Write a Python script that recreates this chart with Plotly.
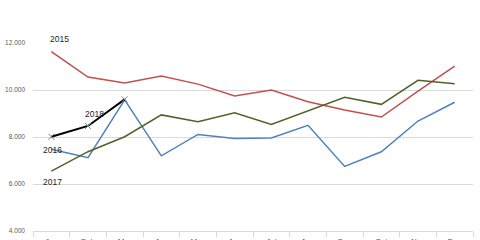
import plotly.graph_objects as go

months = ["Jan", "Feb", "Mar", "Apr", "May", "Jun", "Jul", "Aug", "Sep", "Oct", "Nov", "Dec"]
y2015 = [11630, 10550, 10300, 10600, 10250, 9750, 10000, 9500, 9150, 8850, 9950, 11020]
y2016 = [7480, 7120, 9580, 7200, 8110, 7940, 7960, 8500, 6750, 7370, 8680, 9480]
y2017 = [6550, 7375, 8010, 8940, 8650, 9030, 8530, 9100, 9690, 9390, 10410, 10270]
y2018 = [8010, 8470, 9600]
yticks = [4000, 6000, 8000, 10000, 12000]

fig = go.Figure()
fig.add_trace(go.Scatter(x=months, y=y2015, mode="lines", line=dict(color="#C0504D", width=1.5)))
fig.add_trace(go.Scatter(x=months, y=y2016, mode="lines", line=dict(color="#4F81BD", width=1.5)))
fig.add_trace(go.Scatter(x=months, y=y2017, mode="lines", line=dict(color="#4F6228", width=1.5)))
fig.add_trace(go.Scatter(x=months[:3], y=y2018, mode="lines+markers",
                         line=dict(color="#000000", width=2),
                         marker=dict(symbol="x-thin", size=6, color="#7f7f7f",
                                     line=dict(color="#7f7f7f", width=1))))

# (text, category, value, xshift, yshift)
labels = [("2015", "Jan", 12000, -3, 4), ("2018", "Feb", 9000, -5, 0),
          ("2016", "Jan", 7450, -10, 0), ("2017", "Jan", 6085, -10, 0)]
for txt, xx, yy, xs, ys in labels:
    fig.add_annotation(x=xx, y=yy, text=txt, showarrow=False, xanchor="left",
                       yanchor="middle", xshift=xs, yshift=ys,
                       font=dict(family="Liberation Sans, Arial", size=8.5, color="#262626"))

fig.update_layout(
    width=480, height=240,
    margin=dict(l=33, r=7, t=43, b=9),
    paper_bgcolor="white", plot_bgcolor="white",
    showlegend=False,
    separators=",.",
    font=dict(family="Liberation Sans, Arial", color="#595959"),
)
fig.update_xaxes(type="category", showgrid=False, showline=True, linecolor="#d9d9d9",
                 linewidth=1, ticks="outside", tickson="boundaries", ticklen=5,
                 tickcolor="#d9d9d9", tickfont=dict(size=8, color="#595959"),
                 ticklabelstandoff=2, automargin=False, range=[-0.5, 11.5])
fig.update_yaxes(range=[4000, 12000], tickvals=yticks, tickformat=",d",
                 showgrid=True, gridcolor="#d9d9d9", gridwidth=1, zeroline=False,
                 showline=False, ticks="", ticklabelstandoff=7,
                 tickfont=dict(size=6.5, color="#595959"), automargin=False)

fig.write_html("out.html")
